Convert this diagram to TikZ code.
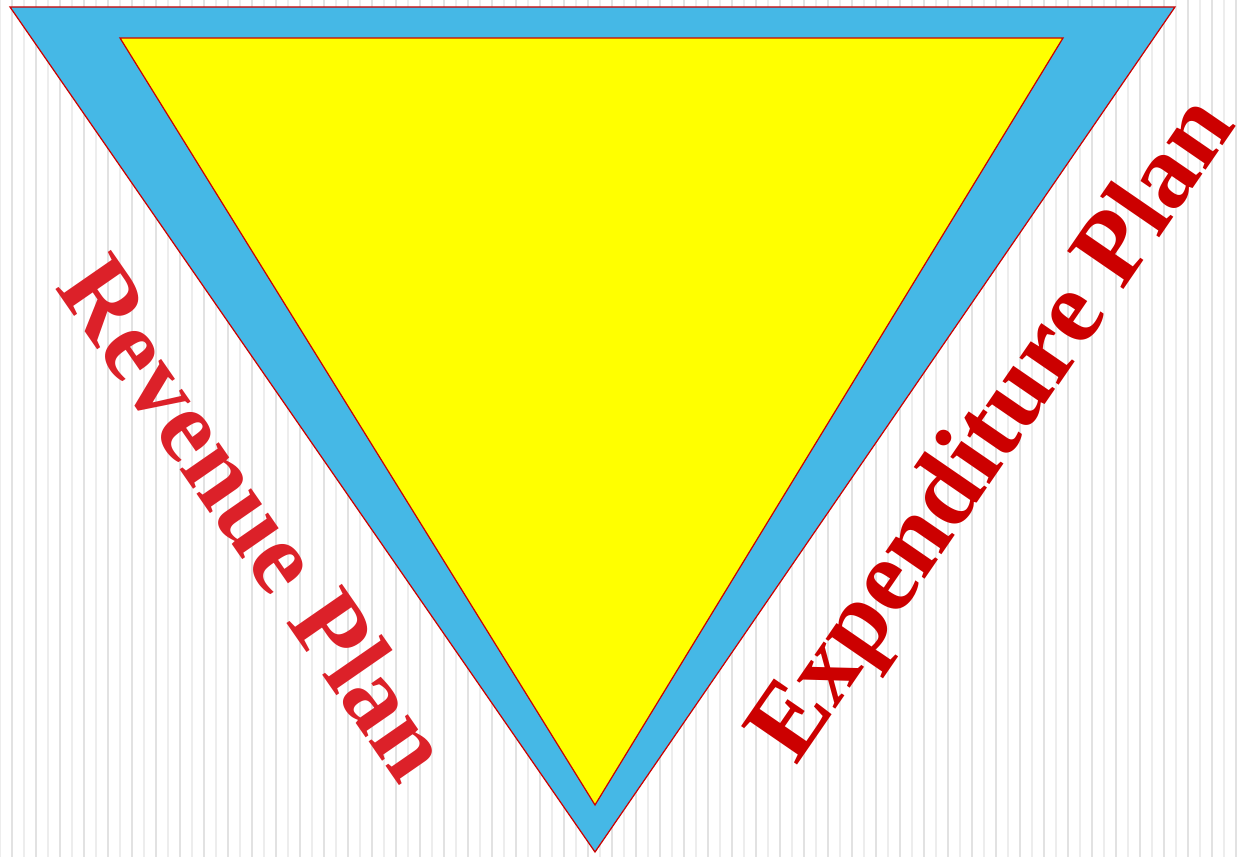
\documentclass[tikz,border=0pt]{standalone}
\usepackage{fontspec}
\setmainfont{Liberation Serif}
\definecolor{PlanBlue}{HTML}{45B8E6}
\definecolor{PlanYellow}{HTML}{FFFF00}
\definecolor{PlanRed}{HTML}{CC0000}
\definecolor{PlanRose}{HTML}{DC2129}
\definecolor{StripeDark}{HTML}{E2E2E2}
\definecolor{StripeLight}{HTML}{EDEDED}
\usepackage{tikz}
\usetikzlibrary{calc}

\begin{document}
\begin{tikzpicture}[
                x=0.02cm, y=0.02cm,
                tri/.style={draw=PlanRed, line width=0.7pt, line join=miter},
                plan/.style={font=\fontsize{59}{59}\selectfont\bfseries, inner sep=0pt, anchor=center}
            ]
                \useasboundingbox (0,0) rectangle (1245,857);
                \fill[white] (0,0) rectangle (1245,857);
                % stripes in the back
                \foreach \sx in {0,24,...,1240} {
                    \draw[StripeLight, line width=0.6pt] (\sx,0) -- (\sx,857);
                }
                \foreach \sx in {12,36,...,1245} {
                    \draw[StripeDark, line width=0.9pt] (\sx,0) -- (\sx,857);
                }
                \coordinate (outL) at (10,850);
                \coordinate (outR) at (1175,850);
                \coordinate (outB) at (595,5);
                \coordinate (inL) at (120,819);
                \coordinate (inR) at (1063,819);
                \coordinate (inB) at (595,52);
                \draw[tri, fill=PlanBlue] (outL) -- (outR) -- (outB) -- cycle;
                \draw[tri, fill=PlanYellow] (inL) -- (inR) -- (inB) -- cycle;
                \node[plan, text=PlanRose, rotate=-55.3] (rev) at (256,340) {Revenue Plan};
                \node[plan, text=PlanRed, rotate=55.5] (exp) at (996,425) {Expenditure Plan};
            \end{tikzpicture}
\end{document}
